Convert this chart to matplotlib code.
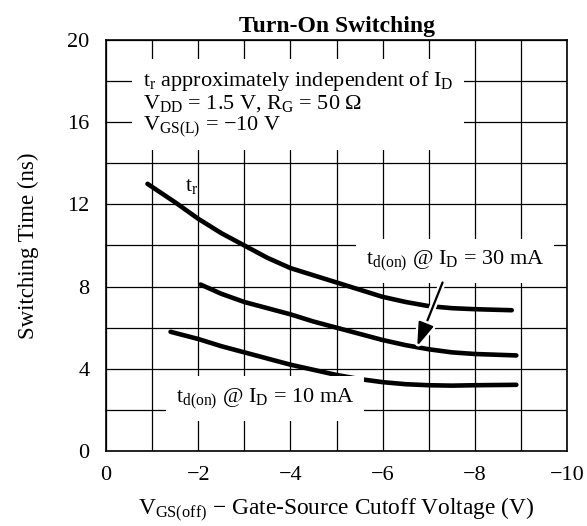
import matplotlib
matplotlib.use("Agg")
import matplotlib.pyplot as plt
import matplotlib.patheffects as pe

plt.rcParams['font.family'] = ['Liberation Serif', 'DejaVu Serif']
plt.rcParams['mathtext.fontset'] = 'custom'
plt.rcParams['mathtext.rm'] = 'Liberation Serif'
plt.rcParams['mathtext.it'] = 'Liberation Serif'
plt.rcParams['mathtext.default'] = 'regular'

# Data
tr_x = [-0.9, -1.5, -2.0, -2.5, -3.0, -3.5, -4.0, -4.5, -5.0, -5.5, -6.0, -6.5, -7.0, -7.5, -8.0, -8.8]
tr_y = [13.0, 12.1, 11.3, 10.6, 10.0, 9.4, 8.9, 8.55, 8.2, 7.85, 7.5, 7.25, 7.05, 6.95, 6.9, 6.85]

td30_x = [-2.05, -2.5, -3.0, -3.5, -4.0, -4.5, -5.0, -5.5, -6.0, -6.5, -7.0, -7.5, -8.0, -8.9]
td30_y = [8.1, 7.65, 7.25, 6.95, 6.65, 6.3, 6.0, 5.7, 5.4, 5.15, 4.95, 4.8, 4.72, 4.65]

td10_x = [-1.4, -2.0, -2.5, -3.0, -3.5, -4.0, -4.5, -5.0, -5.5, -6.0, -6.5, -7.0, -7.5, -8.0, -8.9]
td10_y = [5.8, 5.45, 5.1, 4.8, 4.5, 4.2, 3.95, 3.7, 3.5, 3.35, 3.25, 3.2, 3.18, 3.2, 3.22]

x_ticks = [0, -2, -4, -6, -8, -10]
x_ticklabels = ['0', '\u22122', '\u22124', '\u22126', '\u22128', '\u221210']
y_ticks = [0, 4, 8, 12, 16, 20]

fig = plt.figure(figsize=(5.87, 5.26), dpi=100)
ax = fig.add_axes([0.1806, 0.1426, 0.7854, 0.7814])

ax.set_xlim(0, -10)
ax.set_ylim(0, 20)

ax.set_xticks(x_ticks)
ax.set_xticklabels(x_ticklabels)
ax.set_xticks([-v for v in range(0, 11)], minor=True)
ax.set_yticks(y_ticks)
ax.set_yticks(list(range(0, 21, 2)), minor=True)
ax.grid(True, which='both', color='black', linewidth=0.9)
ax.set_axisbelow(True)
ax.tick_params(which='both', length=0, labelsize=16)
ax.tick_params(axis='x', pad=11)
ax.tick_params(axis='y', pad=12)

for s in ax.spines.values():
    s.set_linewidth(1.2)

lw = 3.3
ax.plot(tr_x, tr_y, color='black', lw=lw, solid_capstyle='round', zorder=3)
ax.plot(td30_x, td30_y, color='black', lw=lw, solid_capstyle='round', zorder=3)
ax.plot(td10_x, td10_y, color='black', lw=lw, solid_capstyle='round', zorder=3)

fs = 16
ax.text(-0.8, 16.9,
        "$t_r$ approximately independent of $I_D$\n"
        "$V_{DD}$ = 1.5 V, $R_G$ = 50 \u03a9\n"
        "$V_{GS(L)}$ = \u221210 V",
        fontsize=fs, ha='left', va='center', linespacing=1.02,
        bbox=dict(facecolor='white', edgecolor='none', pad=8), zorder=4)

ax.text(-1.72, 12.85, "$t_r$", fontsize=fs, ha='left', va='center', zorder=4)

ax.text(-7.57, 9.25, "$t_{d(on)}$ @ $I_D$ = 30 mA", fontsize=fs,
        ha='center', va='center', bbox=dict(facecolor='white', edgecolor='none', pad=7), zorder=4)

ax.text(-3.45, 2.55, "$t_{d(on)}$ @ $I_D$ = 10 mA", fontsize=fs,
        ha='center', va='center', bbox=dict(facecolor='white', edgecolor='none', pad=7), zorder=4)

ax.annotate("", xy=(-6.75, 5.1), xytext=(-7.3, 8.2),
            arrowprops=dict(arrowstyle='-|>,head_length=0.9,head_width=0.3', color='black', lw=1.6,
                            mutation_scale=16, shrinkA=0, shrinkB=0,
                            path_effects=[pe.Stroke(linewidth=5, foreground='white'), pe.Normal()]),
            zorder=5)

ax.set_title("Turn-On Switching", fontsize=17, fontweight='bold', pad=6)
ax.set_xlabel("$V_{GS(off)}$ \u2212 Gate-Source Cutoff Voltage (V)", fontsize=16.8, labelpad=8)
ax.set_ylabel("Switching Time (ns)", fontsize=16.5, labelpad=20)

fig.savefig("out.png", dpi=100)
